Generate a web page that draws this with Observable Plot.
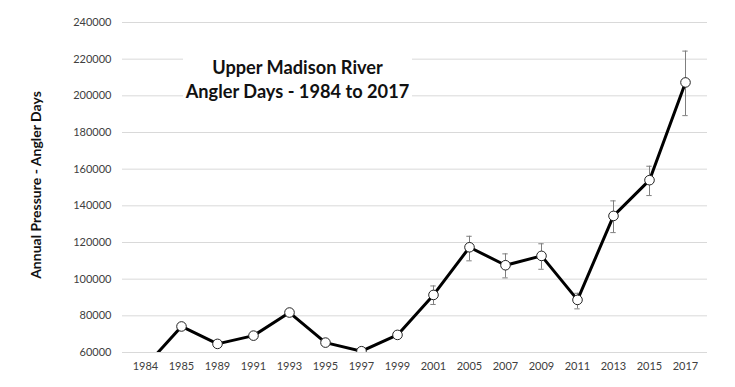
<!DOCTYPE html>
<html>
<head>
<meta charset="utf-8">
<script src="https://cdn.jsdelivr.net/npm/d3@7"></script>
<script src="https://cdn.jsdelivr.net/npm/@observablehq/plot@0.6"></script>
<style>
  html, body { margin: 0; padding: 0; background: #fff; }
  #wrap { position: relative; width: 735px; height: 387px; font-family: Lato, "Open Sans", sans-serif; }
  #title { position: absolute; left: 183px; top: 50px; width: 229px; padding: 5px 0 2px 0;
    background: #fff; text-align: center; font-weight: 700; font-size: 18.2px; line-height: 24px; color: #111; }
  #ylabel { position: absolute; left: 35px; top: 185px; transform: translate(-50%, -50%) rotate(-90deg);
    white-space: nowrap; font-weight: 700; font-size: 14px; color: #111; }
</style>
</head>
<body>
<div id="wrap">
  <div id="chart"></div>
  <div id="title">Upper Madison River<br>Angler Days - 1984 to 2017</div>
  <div id="ylabel">Annual Pressure - Angler Days</div>
</div>
<script>
const years = ["1984","1985","1989","1991","1993","1995","1997","1999","2001","2005","2007","2009","2011","2013","2015","2017"];
const anglerDays = [52500, 74200, 64700, 69200, 81800, 65400, 60700, 69600, 91400, 117400, 107600, 112700, 88700, 134500, 154000, 207300];
const errorYears = ["2001","2005","2007","2009","2011","2013","2015","2017"];
const errorLow  = [86200, 110000, 100700, 105400, 83800, 125400, 145600, 189200];
const errorHigh = [96300, 123400, 113800, 119300, 92300, 142700, 161600, 224400];
const yTicks = [60000, 80000, 100000, 120000, 140000, 160000, 180000, 200000, 220000, 240000];

const points = years.map((y, i) => ({year: y, value: anglerDays[i]}));
const errs = errorYears.map((y, i) => ({year: y, low: errorLow[i], high: errorHigh[i]}));

const chart = Plot.plot({
  width: 735,
  height: 387,
  marginLeft: 122,
  marginRight: 28,
  marginTop: 22,
  marginBottom: 35,
  style: {fontFamily: "Lato, 'Open Sans', sans-serif", fontSize: "11px", color: "#404040", background: "#fff"},
  x: {type: "band", domain: years, padding: 0, label: null, tickSize: 0, tickPadding: 10},
  y: {domain: [60000, 240000], ticks: yTicks, tickFormat: d => String(d), label: null, tickSize: 0, tickPadding: 11},
  marks: [
    Plot.gridY(yTicks, {stroke: "#d9d9d9", strokeOpacity: 1, strokeWidth: 1}),
    Plot.axisY({ticks: yTicks, tickFormat: d => String(d), tickSize: 0, tickPadding: 11, label: null, fill: "#404040"}),
    Plot.axisX({tickSize: 0, tickPadding: 10, label: null, fill: "#404040"}),
    Plot.ruleX(errs, {x: "year", y1: "low", y2: "high", stroke: "#7f7f7f", strokeWidth: 1}),
    Plot.tickY(errs, {x: "year", y: "low", stroke: "#7f7f7f", strokeWidth: 1, insetLeft: 15.3, insetRight: 15.3}),
    Plot.tickY(errs, {x: "year", y: "high", stroke: "#7f7f7f", strokeWidth: 1, insetLeft: 15.3, insetRight: 15.3}),
    Plot.line(points, {x: "year", y: "value", stroke: "#000", strokeWidth: 3, clip: true}),
    Plot.dot(points, {x: "year", y: "value", r: 4.8, fill: "#fff", stroke: "#222", strokeWidth: 1, clip: true})
  ]
});
document.getElementById("chart").appendChild(chart);
</script>
</body>
</html>
